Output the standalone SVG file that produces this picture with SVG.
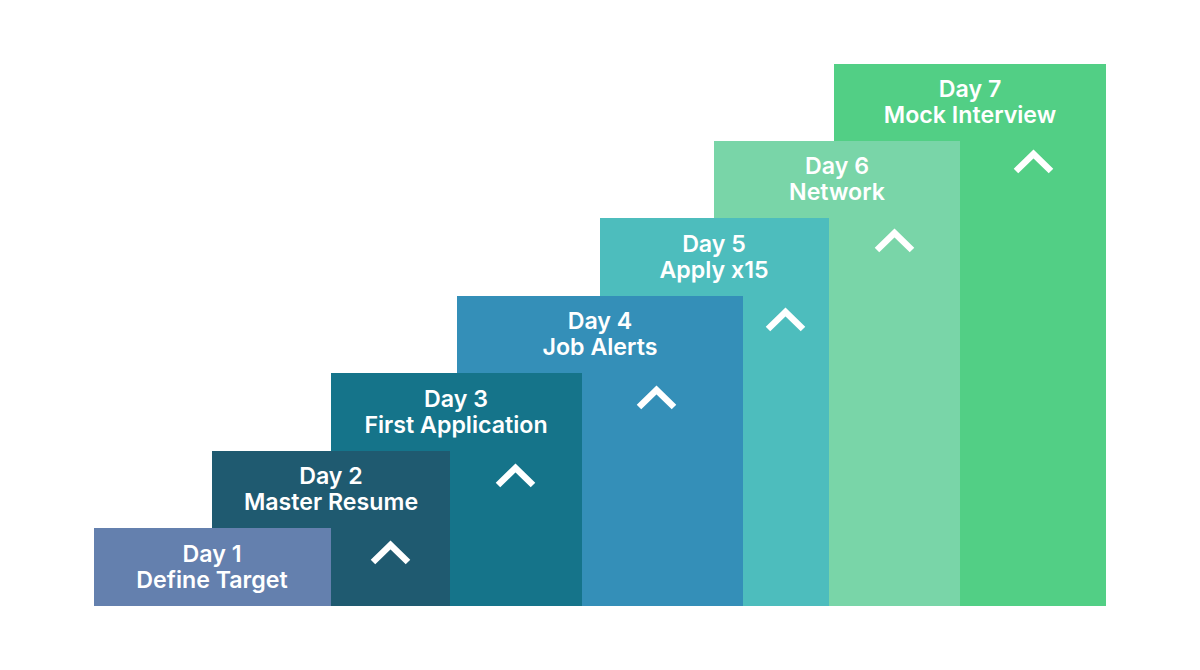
<svg xmlns="http://www.w3.org/2000/svg" width="1200" height="670" viewBox="0 0 1200 670">
<style>
text{font-family:Inter,"Liberation Sans",sans-serif;font-size:23.200px;font-weight:600;fill:#fff;text-anchor:middle}
.c{fill:none;stroke:#fff;stroke-width:6.500}
</style>
<rect width="1200" height="670" fill="#fff"/>
<g id="day7"><rect x="834" y="64" width="272" height="542" fill="#52cf85"/><text x="970" y="97">Day 7</text><text x="970" y="122.500">Mock Interview</text><path class="c" d="M1016 171L1033.500 154L1051 171"/></g>
<g id="day6"><rect x="714" y="141" width="246" height="465" fill="#79d5a8"/><text x="837" y="174">Day 6</text><text x="837" y="199.500">Network</text><path class="c" d="M877 250L894.500 233L912 250"/></g>
<g id="day5"><rect x="600" y="218" width="229" height="388" fill="#4dbdbd"/><text x="714" y="252">Day 5</text><text x="714" y="277.500">Apply x15</text><path class="c" d="M768 329L785.500 312L803 329"/></g>
<g id="day4"><rect x="457" y="296" width="286" height="310" fill="#348fb8"/><text x="600" y="329">Day 4</text><text x="600" y="354.500">Job Alerts</text><path class="c" d="M639 407L656.500 390L674 407"/></g>
<g id="day3"><rect x="331" y="373" width="251" height="233" fill="#15748a"/><text x="456" y="406.500">Day 3</text><text x="456" y="432.500">First Application</text><path class="c" d="M498 485L515.500 468L533 485"/></g>
<g id="day2"><rect x="212" y="451" width="238" height="155" fill="#1f5a70"/><text x="331" y="484">Day 2</text><text x="331" y="509.500">Master Resume</text><path class="c" d="M373 562L390.500 545L408 562"/></g>
<g id="day1"><rect x="94" y="528" width="237" height="78" fill="#6480ae"/><text x="212" y="561.500">Day 1</text><text x="212" y="587.500">Define Target</text></g>
<g id="connectors"></g>
</svg>
